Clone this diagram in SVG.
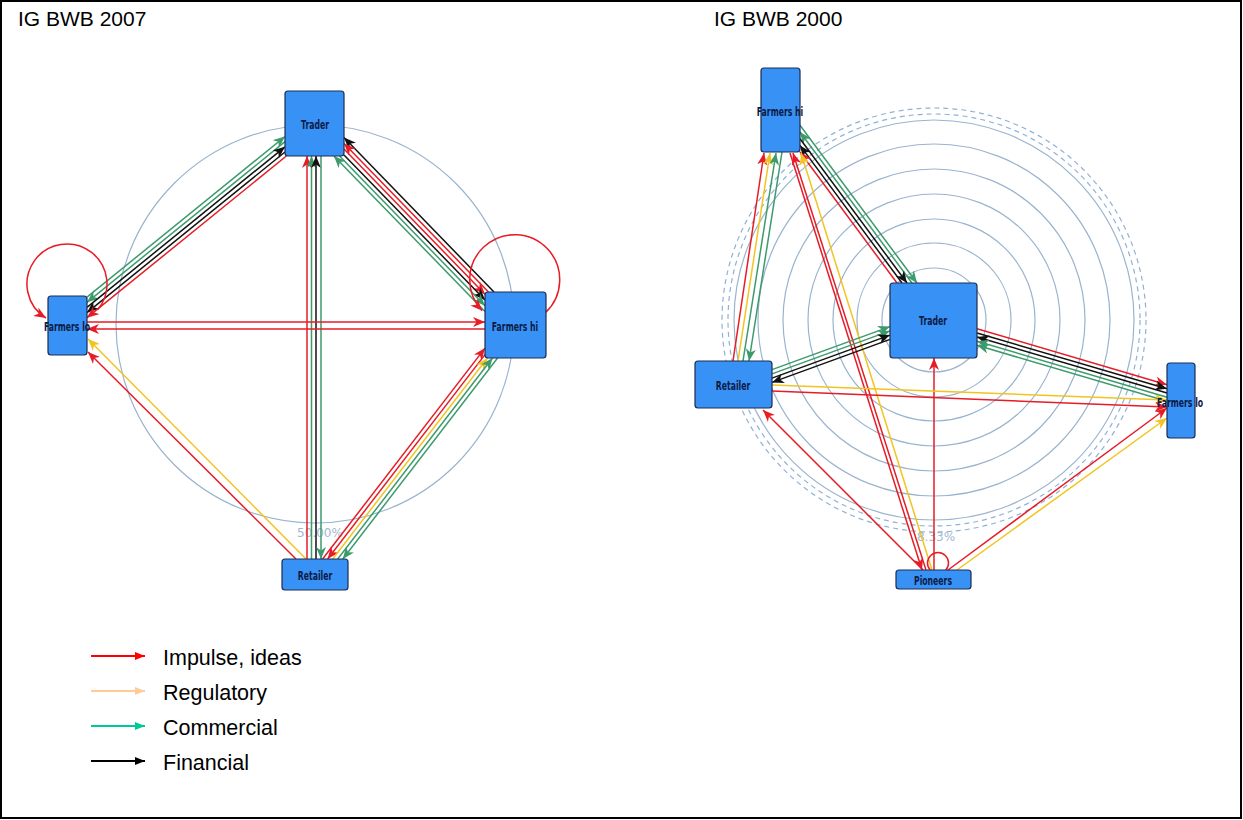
<svg xmlns="http://www.w3.org/2000/svg" width="1243" height="820" viewBox="0 0 1243 820">
  <style>
    .frame { fill: #ffffff; stroke: #000000; stroke-width: 2; }
    .title { font-family: "Liberation Sans", Arial, sans-serif; font-size: 21px; fill: #000000; }
    .legend { font-family: "Liberation Sans", Arial, sans-serif; font-size: 21.5px; fill: #000000; }
    .ring { fill: none; stroke: #9ab4cf; stroke-width: 1.2; }
    .ring-dash { fill: none; stroke: #8fb2d6; stroke-width: 1.2; stroke-dasharray: 5 4; }
    .pct { font-family: "DejaVu Sans", sans-serif; font-size: 12px; fill: #9fb8d0; text-anchor: middle; }
    .node rect { fill: #3892f6; stroke: #1c2c52; stroke-width: 1.2; }
    .node text { font-family: "DejaVu Sans", "Liberation Sans", sans-serif; font-weight: bold; font-size: 12.5px; fill: #0c1a46; text-anchor: middle; }
    .e { fill: none; stroke-width: 1.5; }
    .r { stroke: #e61c26; }
    .y { stroke: #f2c420; }
    .g { stroke: #3d9a6c; }
    .k { stroke: #111111; }
    .r.a { marker-end: url(#ar); }
    .y.a { marker-end: url(#ay); }
    .g.a { marker-end: url(#ag); }
    .k.a { marker-end: url(#ak); }
    .lg { stroke-width: 2; fill: none; }
  </style>
  <defs>
    <marker id="ar" viewBox="0 0 12 10" refX="12" refY="5" markerWidth="12" markerHeight="10" markerUnits="userSpaceOnUse" orient="auto"><path d="M0,0 L12,5 L0,10 L3.5,5 z" fill="#e61c26"/></marker>
    <marker id="ay" viewBox="0 0 12 10" refX="12" refY="5" markerWidth="12" markerHeight="10" markerUnits="userSpaceOnUse" orient="auto"><path d="M0,0 L12,5 L0,10 L3.5,5 z" fill="#f2c420"/></marker>
    <marker id="ag" viewBox="0 0 12 10" refX="12" refY="5" markerWidth="12" markerHeight="10" markerUnits="userSpaceOnUse" orient="auto"><path d="M0,0 L12,5 L0,10 L3.5,5 z" fill="#3d9a6c"/></marker>
    <marker id="ak" viewBox="0 0 12 10" refX="12" refY="5" markerWidth="12" markerHeight="10" markerUnits="userSpaceOnUse" orient="auto"><path d="M0,0 L12,5 L0,10 L3.5,5 z" fill="#111111"/></marker>
    <marker id="lr" viewBox="0 0 10 8" refX="10" refY="4" markerWidth="10" markerHeight="8" markerUnits="userSpaceOnUse" orient="auto"><path d="M0,0 L10,4 L0,8 z" fill="#ff0000"/></marker>
    <marker id="lo" viewBox="0 0 10 8" refX="10" refY="4" markerWidth="10" markerHeight="8" markerUnits="userSpaceOnUse" orient="auto"><path d="M0,0 L10,4 L0,8 z" fill="#ffcc99"/></marker>
    <marker id="lg" viewBox="0 0 10 8" refX="10" refY="4" markerWidth="10" markerHeight="8" markerUnits="userSpaceOnUse" orient="auto"><path d="M0,0 L10,4 L0,8 z" fill="#00c896"/></marker>
    <marker id="lk" viewBox="0 0 10 8" refX="10" refY="4" markerWidth="10" markerHeight="8" markerUnits="userSpaceOnUse" orient="auto"><path d="M0,0 L10,4 L0,8 z" fill="#000000"/></marker>
  </defs>

  <rect class="frame" x="1" y="1" width="1240" height="817"/>

  <text class="title" x="18" y="26">IG BWB 2007</text>
  <text class="title" x="714" y="26">IG BWB 2000</text>

  <!-- left network: reference ring -->
  <g id="rings-2007">
    <circle class="ring" cx="315" cy="324" r="199"/>
    <text class="pct" x="320" y="537">50.00%</text>
  </g>

  <!-- right network: concentric rings -->
  <g id="rings-2000">
    <circle class="ring" cx="934" cy="320" r="27"/>
    <circle class="ring" cx="934" cy="320" r="52"/>
    <circle class="ring" cx="934" cy="320" r="77"/>
    <circle class="ring" cx="934" cy="320" r="101"/>
    <circle class="ring" cx="934" cy="320" r="126"/>
    <circle class="ring" cx="934" cy="320" r="151"/>
    <circle class="ring" cx="934" cy="320" r="176"/>
    <circle class="ring" cx="934" cy="320" r="200"/>
    <circle class="ring-dash" cx="934" cy="320" r="206"/>
    <circle class="ring-dash" cx="934" cy="320" r="212"/>
    <text class="pct" x="936" y="541">8.33%</text>
  </g>

  <g id="connectors">
    <!-- 2007: Trader / Farmers lo -->
    <path class="e g a" d="M87,297.2 L285,136.5"/>
    <path class="e g a" d="M285,141.7 L87,302.3"/>
    <path class="e k a" d="M87,307.4 L285,146.8"/>
    <path class="e k a" d="M285,152 L87,312.6"/>
    <path class="e r a" d="M286.4,156 L87,317.7"/>
    <!-- 2007: Trader / Farmers hi -->
    <path class="e k a" d="M494,292 L344,137.6"/>
    <path class="e r a" d="M488.5,292 L344,143.4"/>
    <path class="e r a" d="M344,149.1 L485,294.2"/>
    <path class="e k a" d="M344,154.9 L485,299.9"/>
    <path class="e g a" d="M339.5,156 L485,305.7"/>
    <path class="e g a" d="M485,311.4 L333.9,156"/>
    <!-- 2007: Retailer / Trader -->
    <path class="e r a" d="M307,559 L307,156"/>
    <path class="e g a" d="M311.5,559 L311.5,156"/>
    <path class="e k a" d="M316,559 L316,156"/>
    <path class="e g a" d="M321,156 L321,559"/>
    <!-- 2007: Farmers lo / Farmers hi -->
    <path class="e r a" d="M87,322 L485,322"/>
    <path class="e r a" d="M485,329 L87,329"/>
    <!-- 2007: Retailer / Farmers lo -->
    <path class="e y a" d="M306,559 L88,339"/>
    <path class="e r a" d="M296,559 L88,352"/>
    <!-- 2007: Retailer / Farmers hi -->
    <path class="e r a" d="M322.6,559 L485,348.1"/>
    <path class="e r a" d="M485,354.6 L327.6,559"/>
    <path class="e y a" d="M332.7,559 L487.5,358"/>
    <path class="e g a" d="M337.7,559 L492.5,358"/>
    <path class="e g a" d="M497.6,358 L342.8,559"/>
    <!-- 2007: self loops -->
    <path class="e r a" d="M97.6,309.7 A40,40 0 1 0 46,318"/>
    <path class="e r a" d="M545.4,312.6 A45,45 0 1 0 482.2,310.8"/>

    <!-- 2000: Farmers hi / Trader -->
    <path class="e g a" d="M800,125.2 L917,283"/>
    <path class="e g a" d="M912,283 L800,132"/>
    <path class="e k a" d="M800,138.7 L907,283"/>
    <path class="e k a" d="M902,283 L800,145.4"/>
    <path class="e r a" d="M897,283 L800,152"/>
    <!-- 2000: Retailer / Farmers hi -->
    <path class="e r a" d="M733,361 L764,153"/>
    <path class="e y a" d="M738,361 L770,153"/>
    <path class="e g a" d="M743,361 L776,153"/>
    <path class="e g a" d="M782,152 L749,361"/>
    <!-- 2000: Pioneers / Farmers hi -->
    <path class="e r a" d="M926,570 L793,153"/>
    <path class="e r a" d="M790,153 L922,570"/>
    <path class="e y a" d="M932,570 L801,153"/>
    <!-- 2000: Pioneers / Trader, Retailer, Farmers lo -->
    <path class="e r a" d="M934,570 L934,358"/>
    <path class="e r a" d="M924,571 L763,410"/>
    <path class="e r a" d="M948,570 L1167,408"/>
    <path class="e y a" d="M957,570 L1167,418"/>
    <!-- 2000: Trader / Farmers lo -->
    <path class="e r a" d="M977,328.7 L1167,384.7"/>
    <path class="e k a" d="M977,333 L1167,388.8"/>
    <path class="e k a" d="M1167,393 L977,337"/>
    <path class="e g a" d="M1167,397.2 L977,341.2"/>
    <path class="e g a" d="M1167,401.3 L977,345.3"/>
    <!-- 2000: Retailer / Trader -->
    <path class="e g a" d="M772,369.6 L890,326.6"/>
    <path class="e g a" d="M772,373.9 L890,330.9"/>
    <path class="e k a" d="M772,378.1 L890,335.1"/>
    <path class="e k a" d="M890,339.4 L772,382.4"/>
    <!-- 2000: Retailer / Farmers lo -->
    <path class="e y a" d="M772,385 L1167,400"/>
    <path class="e r a" d="M772,391 L1167,407"/>
    <!-- 2000: Pioneers self loop -->
    <path class="e r" d="M930.2,570 A10.5,10.5 0 1 1 945.8,570"/>
  </g>

  <!-- 2007 nodes (labels drawn narrow: condensed bold lettering) -->
  <g id="n07-trader" class="node"><rect x="285" y="91" width="59" height="65" rx="3"/><text transform="translate(315,128.5) scale(0.62,1)">Trader</text></g>
  <g id="n07-farmers-lo" class="node"><rect x="48" y="296" width="39" height="59" rx="3"/><text transform="translate(67,330.5) scale(0.62,1)">Farmers lo</text></g>
  <g id="n07-farmers-hi" class="node"><rect x="485" y="292" width="61" height="66" rx="3"/><text transform="translate(515,330.5) scale(0.62,1)">Farmers hi</text></g>
  <g id="n07-retailer" class="node"><rect x="282" y="559" width="66" height="31" rx="3"/><text transform="translate(315,579.5) scale(0.62,1)">Retailer</text></g>

  <!-- 2000 nodes -->
  <g id="n00-farmers-hi" class="node"><rect x="761" y="68" width="39" height="84" rx="3"/><text transform="translate(780,115.5) scale(0.62,1)">Farmers hi</text></g>
  <g id="n00-trader" class="node"><rect x="890" y="283" width="87" height="75" rx="3"/><text transform="translate(933,324.5) scale(0.62,1)">Trader</text></g>
  <g id="n00-retailer" class="node"><rect x="695" y="361" width="77" height="47" rx="3"/><text transform="translate(733,389.5) scale(0.62,1)">Retailer</text></g>
  <g id="n00-farmers-lo" class="node"><rect x="1167" y="363" width="28" height="75" rx="3"/><text transform="translate(1180,406.5) scale(0.62,1)">Farmers lo</text></g>
  <g id="n00-pioneers" class="node"><rect x="896" y="570" width="75" height="19" rx="3"/><text transform="translate(933,584.5) scale(0.62,1)">Pioneers</text></g>

  <!-- legend -->
  <g id="legend">
    <line class="lg" x1="91" y1="656" x2="145" y2="656" stroke="#ff0000" marker-end="url(#lr)"/>
    <line class="lg" x1="91" y1="691" x2="145" y2="691" stroke="#ffcc99" marker-end="url(#lo)"/>
    <line class="lg" x1="91" y1="726" x2="145" y2="726" stroke="#00c896" marker-end="url(#lg)"/>
    <line class="lg" x1="91" y1="761" x2="145" y2="761" stroke="#000000" marker-end="url(#lk)"/>
    <text class="legend" x="163" y="665">Impulse, ideas</text>
    <text class="legend" x="163" y="700">Regulatory</text>
    <text class="legend" x="163" y="735">Commercial</text>
    <text class="legend" x="163" y="770">Financial</text>
  </g>
</svg>
